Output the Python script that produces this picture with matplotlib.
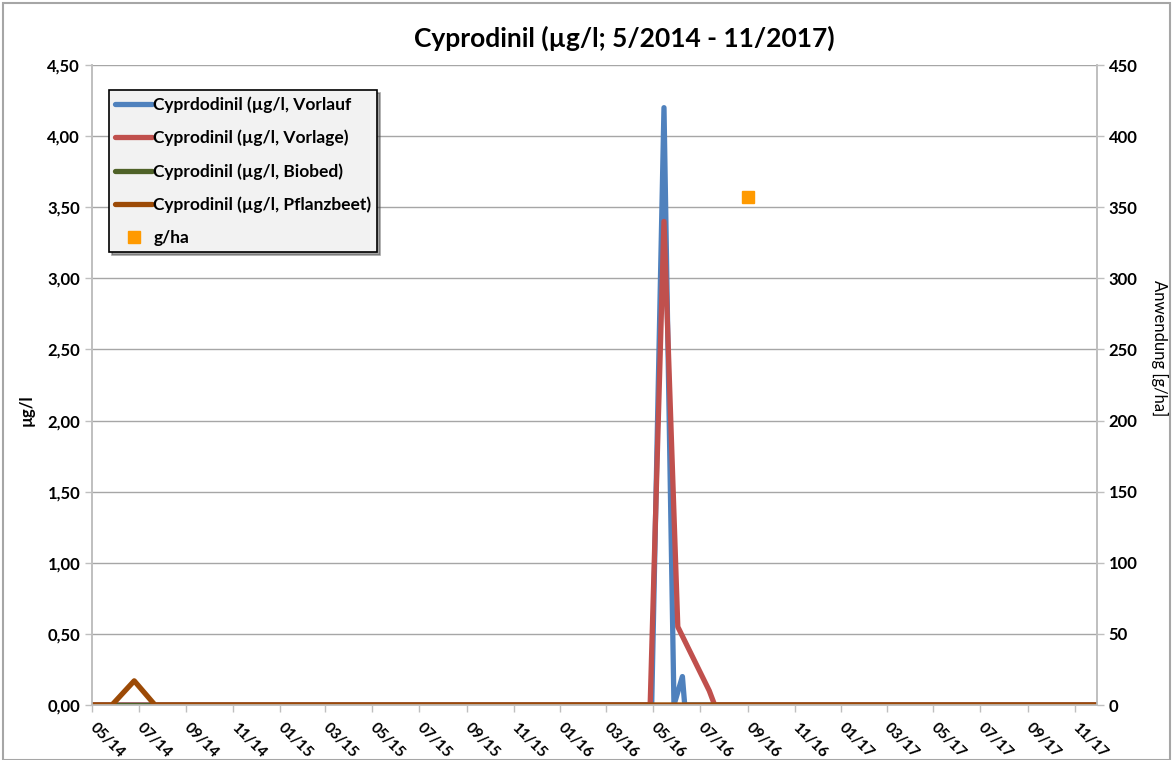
import numpy as np
import pandas as pd
import matplotlib
matplotlib.use("Agg")
import matplotlib.pyplot as plt
import matplotlib.dates as mdates
from matplotlib.patches import Rectangle
from matplotlib.ticker import MultipleLocator, FuncFormatter

plt.rcParams['font.family'] = ['Lato', 'DejaVu Sans']
plt.rcParams['font.weight'] = 'bold'

# Data
vorlauf_dates = ["2014-05-01", "2016-04-29", "2016-05-15", "2016-05-28", "2016-06-08", "2016-06-11", "2017-11-30"]
vorlauf_vals = [0, 0, 4.2, 0, 0.2, 0, 0]

vorlage_dates = ["2014-05-01", "2016-04-27", "2016-05-15", "2016-06-02", "2016-07-13", "2016-07-20", "2017-11-30"]
vorlage_vals = [0, 0, 3.4, 0.55, 0.1, 0, 0]

biobed_dates = ["2014-05-01", "2017-11-30"]
biobed_vals = [0, 0]

pflanz_dates = ["2014-05-01", "2014-05-27", "2014-06-25", "2014-07-22", "2017-11-30"]
pflanz_vals = [0, 0, 0.17, 0, 0]

gha_dates = ["2016-09-01"]
gha_vals = [357]

labels = ["Cyprdodinil (µg/l, Vorlauf", "Cyprodinil (µg/l, Vorlage)",
          "Cyprodinil (µg/l, Biobed)", "Cyprodinil (µg/l, Pflanzbeet)", "g/ha"]
colors = ["#4f81bd", "#c0504d", "#4f6228", "#9c4a06", "#ff9a00"]

fig = plt.figure(figsize=(11.75, 7.6), dpi=100)
ax = fig.add_axes([92/1175, 1 - 705/760, (1097 - 92)/1175, (705 - 65)/760])
ax2 = ax.twinx()

lw = 3.8
series = [(vorlauf_dates, vorlauf_vals), (vorlage_dates, vorlage_vals),
          (biobed_dates, biobed_vals), (pflanz_dates, pflanz_vals)]
handles = []
for (d, v), c, lab in zip(series, colors, labels):
    h, = ax.plot(pd.to_datetime(d), v, color=c, lw=lw, label=lab,
                 solid_joinstyle='round', solid_capstyle='round', zorder=3)
    handles.append(h)
# right axis: application amount
h, = ax2.plot(pd.to_datetime(gha_dates), gha_vals, 's', color=colors[4],
              ms=8, label=labels[4], zorder=3)
handles.append(h)

ax.set_xlim(pd.Timestamp("2014-05-01"), pd.Timestamp("2017-11-30"))
ax.set_ylim(0, 4.5)
ax2.set_ylim(0, 450)
ax.yaxis.set_major_locator(MultipleLocator(0.5))
ax.yaxis.set_major_formatter(FuncFormatter(lambda v, p: f"{v:.2f}".replace(".", ",")))
ax2.yaxis.set_major_locator(MultipleLocator(50))

ax.xaxis.set_major_locator(mdates.MonthLocator(bymonth=[1, 3, 5, 7, 9, 11]))
ax.xaxis.set_major_formatter(mdates.DateFormatter("%m/%y"))

ax.grid(axis='y', color='#a6a6a6', lw=1)
ax.set_axisbelow(True)

for a in (ax, ax2):
    for s in a.spines.values():
        s.set_color('#bfbfbf')
        s.set_linewidth(1.2)
    a.spines['top'].set_visible(False)
    a.tick_params(colors='#bfbfbf', length=5, width=1, labelcolor='black', labelsize=12)

ax.tick_params(axis='x', pad=10, labelsize=11, labelrotation=-45)
for t in ax.get_xticklabels():
    t.set_ha('left')
    t.set_va('center')
    t.set_rotation_mode('anchor')

ax.set_ylabel("µg/l", fontsize=12, fontweight='bold')
ax.yaxis.set_label_coords(-0.057, 0.46)
ax2.set_ylabel("Anwendung [g/ha]", fontsize=12, fontweight='normal', rotation=-90, va='center')
ax2.yaxis.set_label_coords(1.062, 0.558)

fig.suptitle("Cyprodinil (µg/l; 5/2014 - 11/2017)", x=624/1175, y=0.95, va='center',
             fontsize=19, fontweight='bold')

leg = ax.legend(handles=handles, loc='upper left', bbox_to_anchor=(17/1005, 1 - 25/640),
                prop={'weight': 'bold', 'size': 12.5}, frameon=True, borderaxespad=0,
                fancybox=False, shadow=True, handlelength=2.15, handletextpad=0.05,
                borderpad=0.35, labelspacing=0.98)
leg.get_frame().set_facecolor('#f2f2f2')
leg.get_frame().set_edgecolor('black')
leg.get_frame().set_linewidth(1.2)
leg.set_zorder(10)

fig.patches.append(Rectangle((3/1175, 0), 1 - 8/1175, 1 - 3/760, transform=fig.transFigure,
                             fill=False, edgecolor='#a6a6a6', lw=1.5))

fig.savefig("out.png", dpi=100)
